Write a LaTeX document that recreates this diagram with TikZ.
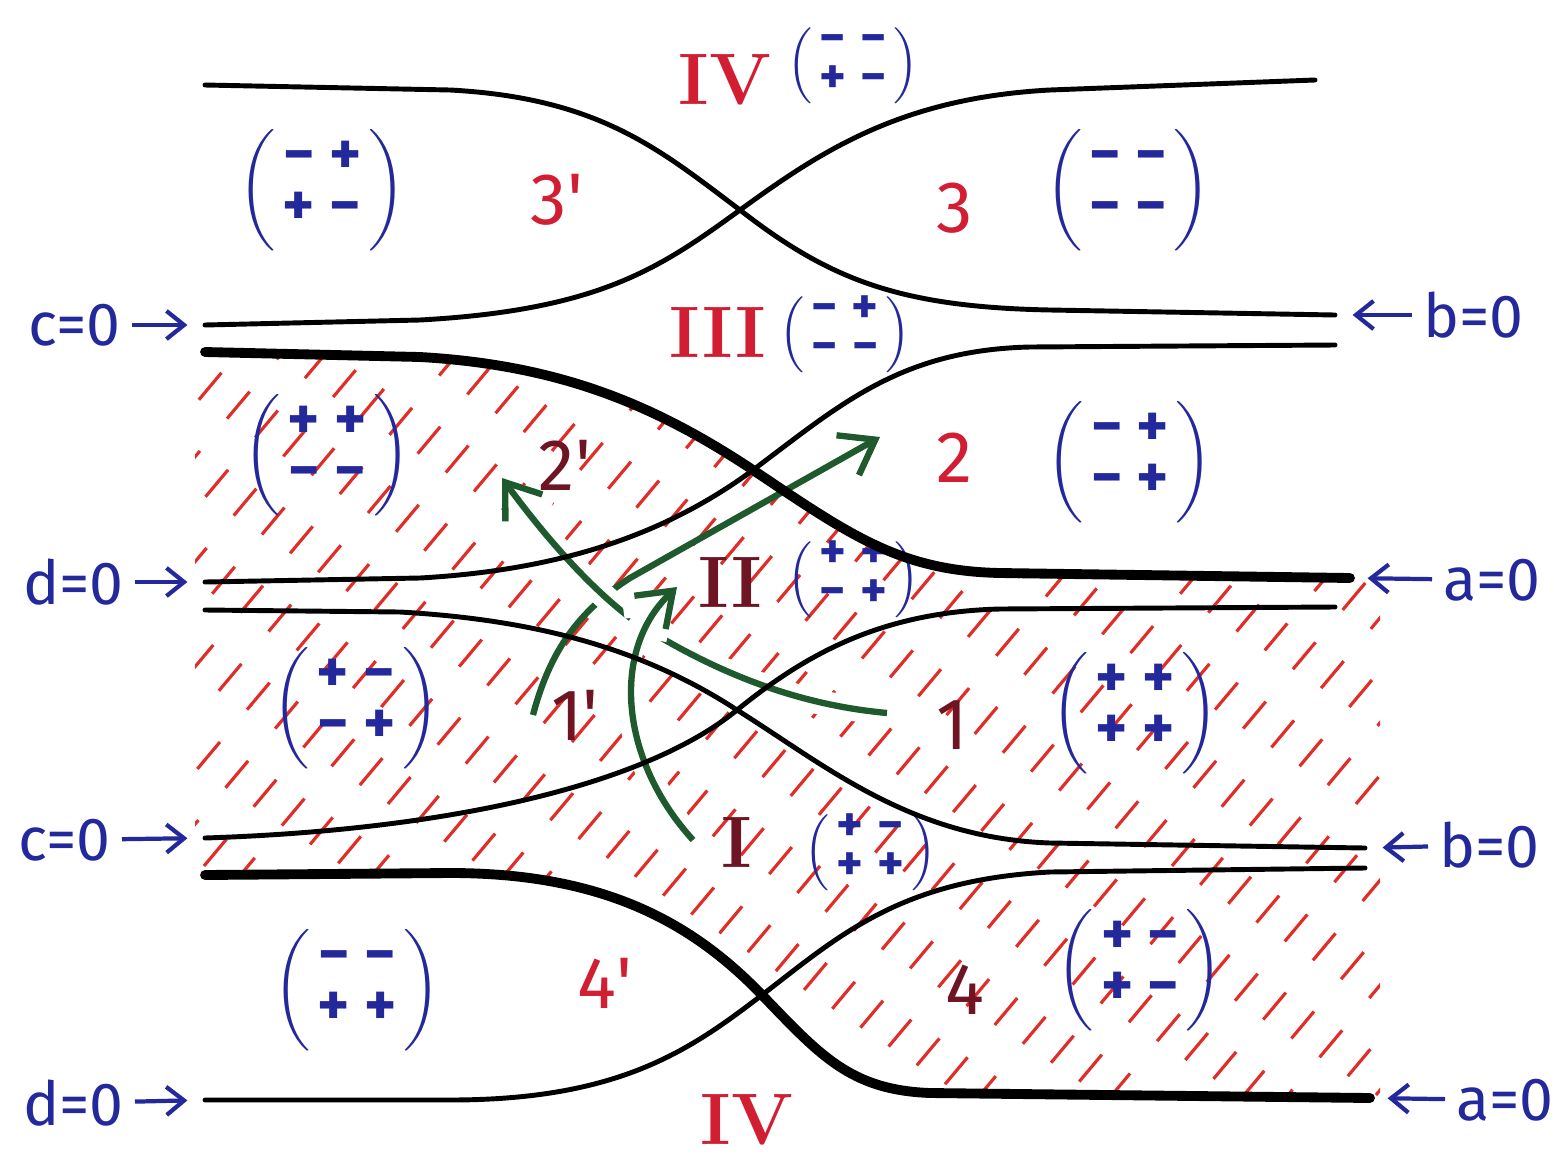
\documentclass[tikz,border=0pt]{standalone}
\usepackage{amsmath}
\usepackage{fontspec}
\setsansfont{Fira Sans}
\usetikzlibrary{arrows.meta}
\definecolor{inkblue}{RGB}{35,40,155}
\definecolor{inkred}{RGB}{210,30,50}
\definecolor{inkmaroon}{RGB}{110,20,35}
\definecolor{inkgreen}{RGB}{30,90,45}
\definecolor{hatchred}{RGB}{225,45,40}
\newcommand{\sgnsize}{\LARGE}
\newcommand{\sgn}[1]{\text{\sgnsize\sffamily\bfseries #1}}
\newcommand{\sgnmat}[4]{$\setlength{\arraycolsep}{2pt}\renewcommand{\arraystretch}{0.8}%
  \left(\begin{array}{cc}\sgn{#1}&\sgn{#2}\\\sgn{#3}&\sgn{#4}\end{array}\right)$}
\begin{document}
\begin{tikzpicture}[x=0.01cm, y=-0.01cm,
    wire/.style={line width=1.4pt, line cap=round},
    heavywire/.style={line width=2.8pt, line cap=round},
    hatch/.style={hatchred, line width=0.9pt, dash pattern=on 10pt off 12pt},
    signs/.style={text=inkblue, font=\Large\let\sgnsize\LARGE, inner sep=1pt},
    smallsigns/.style={text=inkblue, font=\large\let\sgnsize\Large, inner sep=1pt, anchor=west},
    zone/.style={font=\huge\sffamily},
    numeral/.style={font=\huge\bfseries\rmfamily, inner sep=1pt},
    axislabel/.style={text=inkblue, font=\LARGE\sffamily, inner sep=3pt},
    pointer/.style={inkblue, line width=1.2pt, -{Straight Barb[length=5pt,width=8pt]}, shorten >=5pt},
    flow/.style={inkgreen, line width=1.8pt, -{Straight Barb[length=9pt,width=13pt]}},
    bridge/.style={preaction={draw=white, line width=7pt}},
  ]
  \useasboundingbox (0,0) rectangle (1554,1157);

  % curve ends
  \coordinate (cTopEnd) at (205,325);
  \coordinate (dTopEnd) at (205,582);
  \coordinate (cLowEnd) at (205,838);
  \coordinate (dLowEnd) at (205,1100);
  \coordinate (bTopEnd) at (1335,315);
  \coordinate (aTopEnd) at (1350,578);
  \coordinate (bLowEnd) at (1365,848);
  \coordinate (aLowEnd) at (1370,1098);

  % hatched band between the two heavy curves
  \begin{scope}
    \clip (195,352) -- (420,357) .. controls (560,365) and (655,405) .. (753,470)
      .. controls (850,535) and (900,571) .. (1000,573) -- (1380,578)
      -- (1380,1098) -- (930,1093) .. controls (850,1090) and (820,1055) .. (762,995)
      .. controls (690,920) and (600,873) .. (450,873) -- (195,875) -- cycle;
    \foreach \x [count=\i] in {-700,-656,...,1400} {
      \pgfmathsetmacro\ph{mod(\i*7,22)}
      \draw[hatch, dash phase=\ph pt] (\x,1157) -- ++(970,-1157);
    }
  \end{scope}

  % labels of the regions
  \node[numeral, text=inkred] (numIVa) at (725,80) {IV};
  \node[smallsigns] (sIVa) at (783,66) {\sgnmat{−}{−}{+}{−}};
  \node[signs] (s3p) at (322,190) {\sgnmat{−}{+}{+}{−}};
  \node[zone, text=inkred] (r3p) at (557,200) {3\textquotesingle};
  \node[zone, text=inkred] (r3) at (955,208) {3};
  \node[signs] (s3) at (1128,190) {\sgnmat{−}{−}{−}{−}};
  \node[numeral, text=inkred] (numIII) at (718,332) {III};
  \node[smallsigns] (sIII) at (775,335) {\sgnmat{−}{+}{−}{−}};
  \node[signs] (s2p) at (327,455) {\sgnmat{+}{+}{−}{−}};
  \node[zone, text=inkmaroon] (r2p) at (565,465) {2\textquotesingle};
  \node[zone, text=inkred] (r2) at (955,458) {2};
  \node[signs] (s2) at (1130,462) {\sgnmat{−}{+}{−}{+}};
  \node[numeral, text=inkmaroon] (numII) at (730,582) {II};
  \node[smallsigns] (sII) at (783,580) {\sgnmat{+}{+}{−}{+}};
  \node[signs] (s1p) at (356,708) {\sgnmat{+}{−}{−}{+}};
  \node[zone, text=inkmaroon] (r1p) at (575,715) {1\textquotesingle};
  \node[zone, text=inkmaroon] (r1) at (952,725) {1};
  \node[signs] (s1) at (1135,713) {\sgnmat{+}{+}{+}{+}};
  \node[numeral, text=inkmaroon] (numI) at (737,842) {I};
  \node[smallsigns] (sI) at (800,853) {\sgnmat{+}{−}{+}{+}};
  \node[signs] (s4p) at (357,990) {\sgnmat{−}{−}{+}{+}};
  \node[zone, text=inkred] (r4p) at (605,983) {4\textquotesingle};
  \node[zone, text=inkmaroon] (r4) at (965,990) {4};
  \node[signs] (s4) at (1140,970) {\sgnmat{+}{−}{+}{−}};
  \node[numeral, text=inkred] (numIVb) at (747,1120) {IV};

  % green flows
  \coordinate (fromOnePrime) at (533,715);
  \coordinate (toTwo) at (880,437);
  \coordinate (fromOne) at (887,713);
  \coordinate (toTwoPrime) at (502,478);
  \coordinate (fromI) at (693,840);
  \coordinate (toII) at (677,587);
  \draw[flow] (fromOnePrime) .. controls (550,650) and (580,610) .. (630,578) -- (toTwo);
  \draw[flow, bridge] (fromOne) .. controls (800,705) and (720,675) .. (640,625)
    .. controls (590,590) and (540,530) .. (toTwoPrime);
  \draw[flow, bridge] (fromI) .. controls (620,760) and (610,650) .. (toII);

  % top pair
  \draw[wire] (205,85) -- (450,90) .. controls (600,98) and (660,150) .. (740,210)
    .. controls (830,280) and (900,307) .. (1050,310) -- (bTopEnd);
  \draw[wire] (cTopEnd) -- (420,320) .. controls (600,310) and (660,268) .. (740,210)
    .. controls (820,152) and (900,98) .. (1050,90) -- (1315,80);
  % upper middle pair
  \draw[heavywire] (205,352) -- (420,357) .. controls (560,365) and (655,405) .. (753,470)
    .. controls (850,535) and (900,571) .. (1000,573) -- (aTopEnd);
  \draw[wire] (dTopEnd) -- (420,578) .. controls (560,570) and (665,535) .. (753,470)
    .. controls (840,405) and (900,350) .. (1030,347) -- (1335,345);
  % lower middle pair
  \draw[wire] (205,610) -- (400,612) .. controls (540,620) and (645,650) .. (737,710)
    .. controls (825,765) and (910,838) .. (1050,843) -- (bLowEnd);
  \draw[wire] (cLowEnd) .. controls (450,830) and (645,785) .. (737,710)
    .. controls (805,655) and (880,612) .. (1000,609) -- (1335,607);
  % bottom pair
  \draw[heavywire] (205,875) -- (450,873) .. controls (600,873) and (690,920) .. (762,995)
    .. controls (820,1055) and (850,1090) .. (930,1093) -- (aLowEnd);
  \draw[wire] (dLowEnd) -- (450,1100) .. controls (620,1100) and (690,1050) .. (762,995)
    .. controls (840,935) and (900,880) .. (1050,872) -- (1365,868);

  % names of the curves
  \node[axislabel, anchor=east] (cTop) at (132,325) {c=0};
  \node[axislabel, anchor=east] (dTop) at (135,582) {d=0};
  \node[axislabel, anchor=east] (cLow) at (122,840) {c=0};
  \node[axislabel, anchor=east] (dLow) at (135,1103) {d=0};
  \node[axislabel, anchor=west] (bTop) at (1412,315) {b=0};
  \node[axislabel, anchor=west] (aTop) at (1432,580) {a=0};
  \node[axislabel, anchor=west] (bLow) at (1428,845) {b=0};
  \node[axislabel, anchor=west] (aLow) at (1445,1100) {a=0};
  \draw[pointer] (cTop) -- (cTopEnd);
  \draw[pointer] (dTop) -- (dTopEnd);
  \draw[pointer] (cLow) -- (cLowEnd);
  \draw[pointer] (dLow) -- (dLowEnd);
  \draw[pointer] (bTop) -- (bTopEnd);
  \draw[pointer] (aTop) -- (aTopEnd);
  \draw[pointer] (bLow) -- (bLowEnd);
  \draw[pointer] (aLow) -- (aLowEnd);
\end{tikzpicture}
\end{document}
